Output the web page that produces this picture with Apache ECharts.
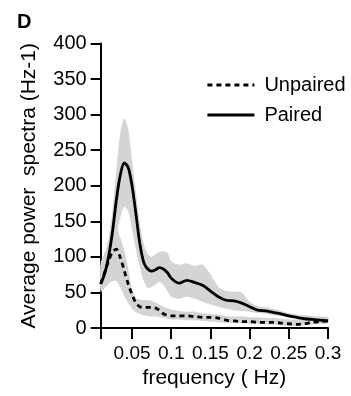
<!DOCTYPE html>
<html>
<head>
<meta charset="utf-8">
<script src="https://cdn.jsdelivr.net/npm/echarts@6/dist/echarts.min.js"></script>
<style>
html,body{margin:0;padding:0;background:#fff;}
#chart{width:351px;height:396px;}
</style>
</head>
<body>
<div id="chart"></div>
<script>
// Frequency grid (Hz)
var freq = [0.010,0.015,0.020,0.025,0.030,0.035,0.040,0.045,0.050,0.055,0.060,0.065,0.070,0.075,0.080,0.085,0.090,0.095,0.100,0.110,0.120,0.130,0.140,0.150,0.160,0.170,0.180,0.190,0.200,0.210,0.220,0.230,0.240,0.250,0.260,0.270,0.280,0.290,0.300];
// Paired: mean, upper and lower band
var pairedMean  = [62,76,100,135,180,215,232,226,200,160,118,92,83,80,82,85,83,78,70,63,67,64,60,52,44,39,38,35,30,25,24,22,20,17,15,13,12,11,10];
var pairedUpper = [88,105,125,165,222,275,295,280,236,190,145,117,104,100,104,107,108,106,94,89,91,87,89,76,58,52,51,50,37,31,29,27,24,21,19,18,17,16,15];
var pairedLower = [53,68,88,110,131,155,171,164,139,110,85,66,56,58,61,65,60,52,44,41,44,41,37,33,30,27,25,24,23,21,20,18,17,15,14,13,11,10,9];
// Unpaired: mean, upper and lower band
var unpairedMean  = [62,78,94,107,111,99,81,62,47,35,30,29,29,29,28,25,20,18,17,17,17,16,15,15,14,11,10,9,9,8,8,8,7,6,5,6,8,9,10];
var unpairedUpper = [92,105,120,133,141,127,110,85,55,42,40,39,39,38,36,33,30,28,26,24,23,23,21,20,19,17,16,16,15,15,14,14,13,12,12,13,14,15,15];
var unpairedLower = [51,56,62,66,66,57,45,35,27,22,20,18,17,16,16,15,14,13,12,12,11,11,10,9,8,7,7,7,6,6,5,5,4,3,3,4,5,6,7];
// Axis ticks
var xTickLabels = [0.05,0.1,0.15,0.2,0.25,0.3];
var xTicks = [0.01,0.05,0.1,0.15,0.2,0.25,0.3];

function pairs(ys){ return freq.map(function(f,i){ return [f, ys[i]]; }); }

var band = '#d3d4d6';
var font = 'Liberation Sans, Arial, Helvetica, sans-serif';

function bandSeries(name, upper, lower){
  return {
    name:name, type:'custom', silent:true, z:1, clip:true,
    data:[[freq[0], lower[0]]],
    renderItem:function(params, api){
      var pts = [];
      for (var i=0;i<freq.length;i++) pts.push(api.coord([freq[i], upper[i]]));
      for (var j=freq.length-1;j>=0;j--) pts.push(api.coord([freq[j], lower[j]]));
      return {type:'polygon', shape:{points:pts, smooth:0.25}, style:{fill:band, stroke:null}};
    }
  };
}

var chart = echarts.init(document.getElementById('chart'), null, {renderer:'canvas'});
chart.setOption({
  animation:false,
  backgroundColor:'#fff',
  grid:{left:100.7, right:23, top:43.5, bottom:68, containLabel:false},
  graphic:[{type:'text', left:17, top:12, style:{text:'D', font:'bold 20px '+font, fill:'#000'}}],
  legend:{
    data:['Unpaired','Paired'], orient:'vertical', left:201, top:70,
    itemWidth:47, itemHeight:14, itemGap:10,
    itemStyle:{opacity:0},
    lineStyle:{width:2.8},
    textStyle:{fontFamily:font, fontSize:20, color:'#000', padding:[0,0,0,5]}
  },
  xAxis:{
    type:'value', min:0.01, max:0.3,
    name:'frequency ( Hz)', nameLocation:'middle', nameGap:40,
    nameTextStyle:{fontFamily:font, fontSize:21, color:'#000'},
    axisLine:{show:true, onZero:false, lineStyle:{color:'#000', width:2}},
    axisTick:{show:true, length:11, lineStyle:{color:'#000', width:2}, customValues:xTicks},
    axisLabel:{fontFamily:font, fontSize:19, color:'#000', margin:16, customValues:xTickLabels,
      formatter:function(v){ return String(+v.toFixed(2)); }},
    splitLine:{show:false}
  },
  yAxis:{
    type:'value', min:0, max:400, interval:50,
    name:'Average power  spectra (Hz-1)', nameLocation:'middle', nameGap:61,
    nameTextStyle:{fontFamily:font, fontSize:21, color:'#000'},
    axisLine:{show:true, lineStyle:{color:'#000', width:2}},
    axisTick:{show:true, length:10, lineStyle:{color:'#000', width:2}},
    axisLabel:{fontFamily:font, fontSize:20, color:'#000', margin:14},
    splitLine:{show:false}
  },
  series:[
    bandSeries('Paired band', pairedUpper, pairedLower),
    bandSeries('Unpaired band', unpairedUpper, unpairedLower),
    {name:'Unpaired', type:'line', data:pairs(unpairedMean), symbol:'none', smooth:0.3, itemStyle:{color:'#000'}, lineStyle:{color:'#000', width:2.8, type:[5,4]}, z:3},
    {name:'Paired', type:'line', data:pairs(pairedMean), symbol:'none', smooth:0.3, itemStyle:{color:'#000'}, lineStyle:{color:'#000', width:2.8}, z:4}
  ]
});
</script>
</body>
</html>
